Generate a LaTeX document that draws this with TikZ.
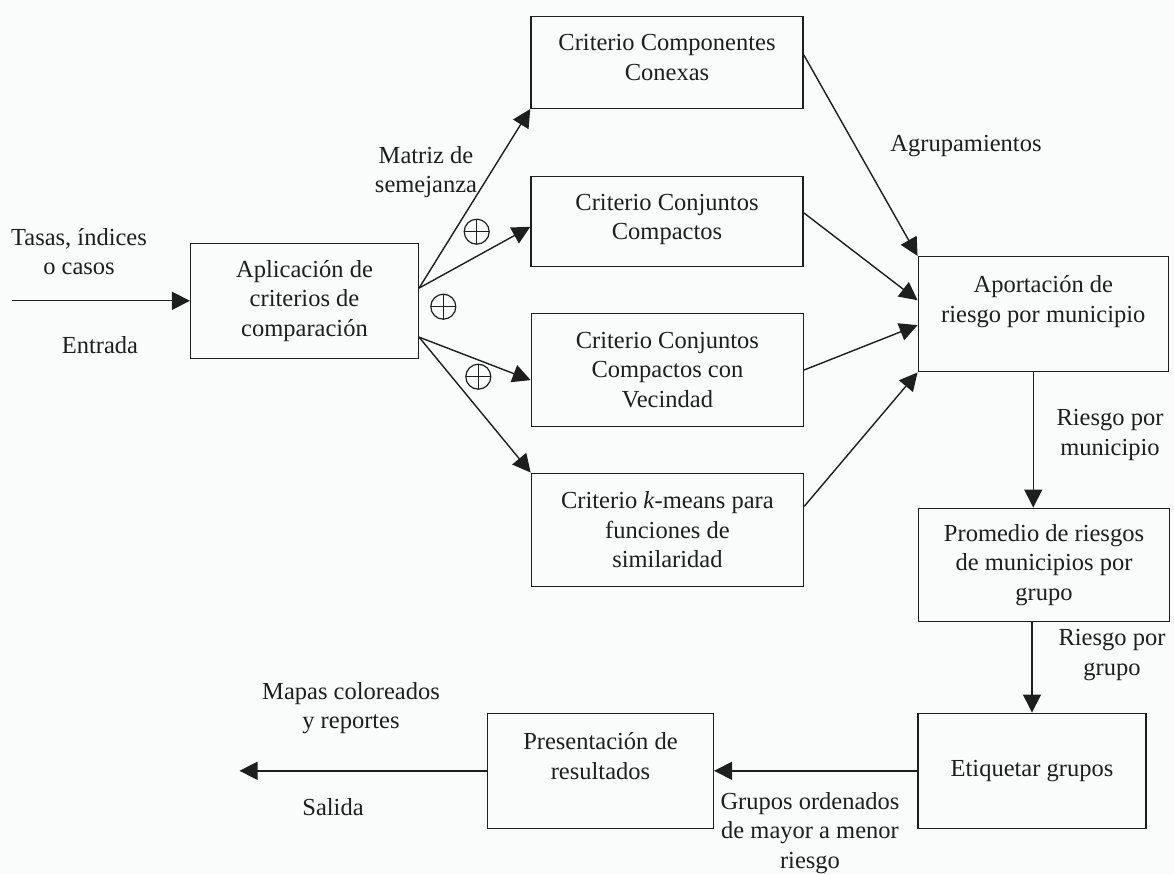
\documentclass[tikz,border=0pt]{standalone}
\usepackage{fontspec}
\setmainfont{Liberation Serif}
\usetikzlibrary{arrows.meta,calc}
\definecolor{ink}{RGB}{30,30,30}
\definecolor{bg}{RGB}{250,251,251}
\newcommand{\dn}[1]{\rule[-#1pt]{0pt}{#1pt}}
\begin{document}
\begin{tikzpicture}[x=1pt,y=-1pt,
  every node/.style={font=\fontsize{24.5}{29.5}\selectfont, text=ink},
  box/.style={draw=ink, line width=1.5pt, align=center, inner sep=0pt},
  lbl/.style={align=center, inner sep=0pt},
  arr/.style={draw=ink, line width=1.4pt, -{Triangle[length=18pt,width=18pt]}},
  oplus/.style={circle, draw=ink, line width=1.2pt, minimum size=25pt, inner sep=0pt,
    path picture={\draw[ink, line width=1.2pt] (path picture bounding box.north) -- (path picture bounding box.south)
      (path picture bounding box.west) -- (path picture bounding box.east);}}
]
\fill[bg] (0,0) rectangle (1174,874);
\useasboundingbox (0,0) rectangle (1174,874);

% boxes
\node[box, minimum width=227.6pt, minimum height=115pt] (A) at (304.5,300.8)
  {Aplicación de\\criterios de\\comparación};
\node[box, minimum width=272pt, minimum height=91.6pt] (C1) at (667,62.5)
  {Criterio Componentes\\Conexas\dn{10}};
\node[box, minimum width=272pt, minimum height=90pt] (C2) at (667,221.7)
  {Criterio Conjuntos\\Compactos\dn{10}};
\node[box, minimum width=272pt, minimum height=113.4pt] (C3) at (667.4,370)
  {Criterio Conjuntos\\Compactos con\\Vecindad};
\node[box, minimum width=272pt, minimum height=113.4pt] (C4) at (667.4,530)
  {Criterio \textit{k}-means para\\funciones de\\similaridad};
\node[box, minimum width=250pt, minimum height=115pt] (R) at (1043.3,314.2)
  {Aportación de\\riesgo por municipio\dn{30}};
\node[box, minimum width=251pt, minimum height=113.4pt] (P) at (1044,565)
  {Promedio de riesgos\\de municipios por\\grupo};
\node[box, minimum width=227.7pt, minimum height=115pt] (E) at (1032,770.8)
  {Etiquetar grupos};
\node[box, minimum width=225.6pt, minimum height=115pt] (S) at (600.5,770.8)
  {Presentación de\\resultados\dn{30}};

% free ends
\coordinate (in0) at (12,300.8);
\coordinate (out0) at (239.5,770.8);

% start/end points on borders
\coordinate (Au) at ($(A.north east)!0.391!(A.south east)$);
\coordinate (Al) at ($(A.north east)!0.812!(A.south east)$);
\coordinate (C2w) at ($(C2.north west)!0.556!(C2.south west)$);
\coordinate (C3w) at ($(C3.north west)!0.588!(C3.south west)$);
\coordinate (C1e) at ($(C1.north east)!0.418!(C1.south east)$);
\coordinate (C2e) at ($(C2.north east)!0.403!(C2.south east)$);
\coordinate (C3e) at ($(C3.north east)!0.50!(C3.south east)$);
\coordinate (C4e) at ($(C4.north east)!0.295!(C4.south east)$);
\coordinate (Rw2) at ($(R.north west)!0.38!(R.south west)$);
\coordinate (Rw3) at ($(R.north west)!0.594!(R.south west)$);
\coordinate (Rs) at ($(R.south west)!0.46!(R.south east)$);

% connectors
\draw[arr] (in0) -- (A.west);
\draw[arr] (Au) -- (C1.south west);
\draw[arr] (Au) -- (C2w);
\draw[arr] (Al) -- (C3w);
\draw[arr] (Al) -- (C4.north west);
\draw[arr] (C1e) -- (R.north west);
\draw[arr] (C2e) -- (Rw2);
\draw[arr] (C3e) -- (Rw3);
\draw[arr] (C4e) -- (R.south west);
\draw[arr] (Rs) -- (Rs |- P.north);
\draw[arr] (E.north |- P.south) -- (E.north);
\draw[arr] (E.west) -- (S.east);
\draw[arr] (S.west) -- (out0);

% oplus marks
\node[oplus] (o1) at (476.7,231.7) {};
\node[oplus] (o2) at (443.3,306.7) {};
\node[oplus] (o3) at (478.3,376.7) {};

% labels
\node[lbl] (l1) at (79,251.5) {Tasas, índices\\o casos};
\node[lbl] (l2) at (100,345) {Entrada};
\node[lbl] (l3) at (426,172) {Matriz de\\semejanza};
\node[lbl] (l4) at (966,146) {Agrupamientos};
\node[lbl] (l5) at (1110,435) {Riesgo por\\municipio};
\node[lbl] (l6) at (1112,655) {Riesgo por\\grupo};
\node[lbl] (l7) at (810,833) {Grupos ordenados\\de mayor a menor\\riesgo};
\node[lbl] (l8) at (351,708) {Mapas coloreados\\y reportes};
\node[lbl] (l9) at (333,807) {Salida};
\end{tikzpicture}
\end{document}
